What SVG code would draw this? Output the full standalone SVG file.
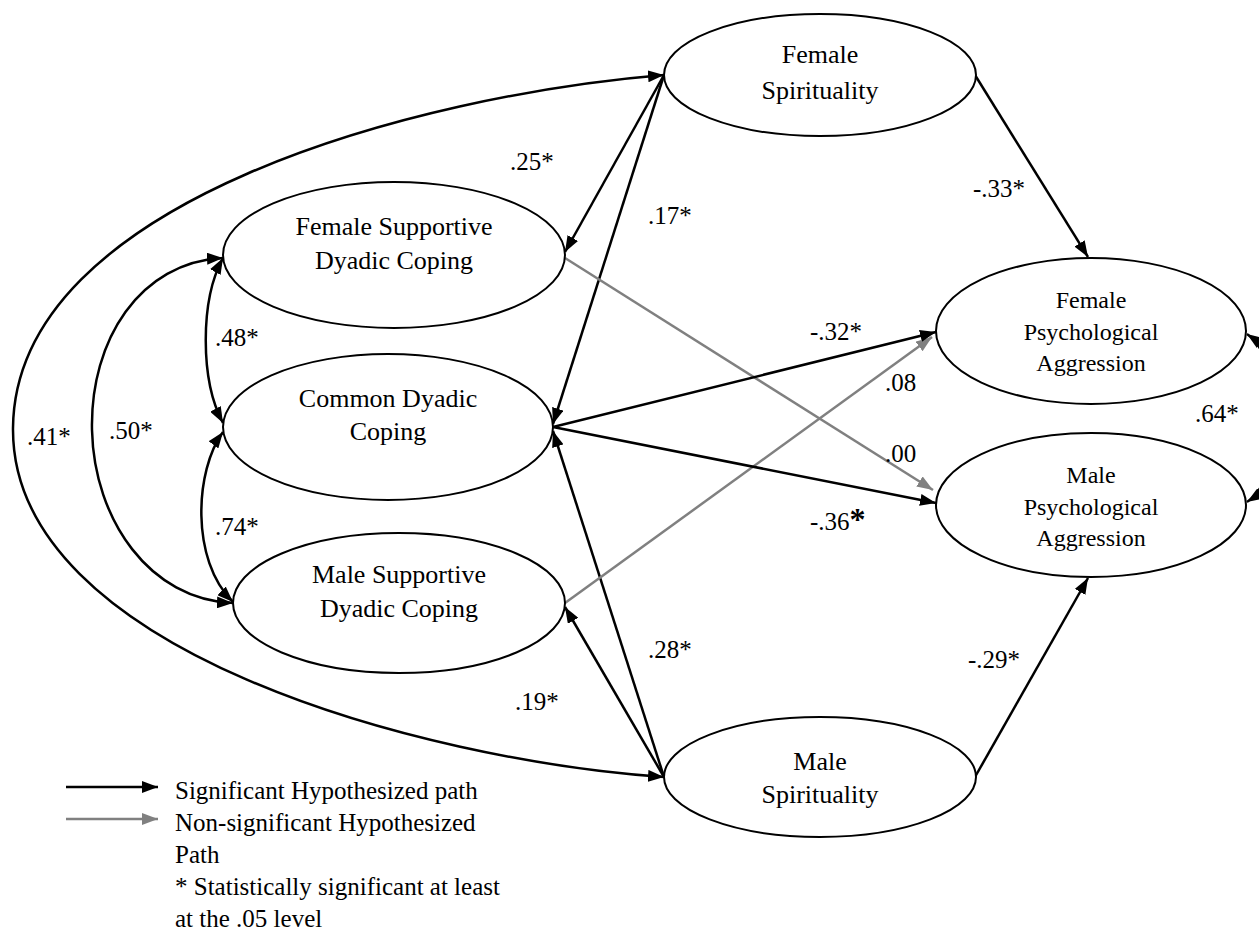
<svg xmlns="http://www.w3.org/2000/svg" width="1259" height="944" viewBox="0 0 1259 944" font-family="'Liberation Serif','Times New Roman',serif">
<style>
text{font-family:"Liberation Serif","Times New Roman",serif;fill:#000}
.n{font-size:26px;text-anchor:middle}
.p{font-size:24px;text-anchor:middle}
.l{font-size:25px}
.g{font-size:25px}
ellipse{fill:#fff;stroke:#000;stroke-width:2}
.b{fill:none;stroke:#000;stroke-width:2.5}
.gr{fill:none;stroke:#808080;stroke-width:2.5}
</style>
<defs>
<marker id="ab" markerUnits="userSpaceOnUse" markerWidth="16" markerHeight="12" refX="16" refY="6" orient="auto-start-reverse"><path d="M0,0 L16,6 L0,12 z" fill="#000"/></marker>
<marker id="ag" markerUnits="userSpaceOnUse" markerWidth="16" markerHeight="12" refX="16" refY="6" orient="auto-start-reverse"><path d="M0,0 L16,6 L0,12 z" fill="#808080"/></marker>
</defs>
<rect width="1259" height="944" fill="#fff"/>
<g id="connectors">
<path class="b" d="M664,75 C420,95 15,200 13,428 C11,650 420,760 664,777" marker-start="url(#ab)" marker-end="url(#ab)"/>
<path class="b" d="M223,258 C140,262 90,340 92,430 C94,520 150,600 233,603" marker-start="url(#ab)" marker-end="url(#ab)"/>
<path class="b" d="M223,258 C200,300 200,380 223,423" marker-start="url(#ab)" marker-end="url(#ab)"/>
<path class="b" d="M223,432 C195,470 190,560 233,602" marker-start="url(#ab)" marker-end="url(#ab)"/>
<path class="b" d="M1247,334 C1285,360 1285,478 1247,502" marker-start="url(#ab)" marker-end="url(#ab)"/>
<path class="b" d="M664,75 L565,252" marker-end="url(#ab)"/>
<path class="b" d="M664,75 L553,424" marker-end="url(#ab)"/>
<path class="b" d="M664,777 L565,607" marker-end="url(#ab)"/>
<path class="b" d="M664,777 L553,431" marker-end="url(#ab)"/>
<path class="gr" d="M565,258 L933,490" marker-end="url(#ag)"/>
<path class="gr" d="M565,603 L932,337" marker-end="url(#ag)"/>
<path class="b" d="M553,427 L936,332" marker-end="url(#ab)"/>
<path class="b" d="M553,427 L936,503" marker-end="url(#ab)"/>
<path class="b" d="M975,75 L1088,257" marker-end="url(#ab)"/>
<path class="b" d="M975,777 L1088,578" marker-end="url(#ab)"/>
</g>
<g id="labels">
<text class="l" x="510" y="170">.25*</text>
<text class="l" x="648" y="224">.17*</text>
<text class="l" x="215" y="346">.48*</text>
<text class="l" x="215" y="535">.74*</text>
<text class="l" x="109" y="439">.50*</text>
<text class="l" x="27" y="445">.41*</text>
<text class="l" x="1195" y="422">.64*</text>
<text class="l" x="810" y="340">-.32*</text>
<text class="l" x="885" y="391">.08</text>
<text class="l" x="885" y="462">.00</text>
<text class="l" x="810" y="530">-.36<tspan font-size="32" font-weight="bold">*</tspan></text>
<text class="l" x="648" y="658">.28*</text>
<text class="l" x="515" y="710">.19*</text>
<text class="l" x="973" y="197">-.33*</text>
<text class="l" x="968" y="668">-.29*</text>
</g>
<g id="node-female-spirituality"><ellipse cx="820" cy="75" rx="156" ry="61"/><text class="n" x="820" y="63">Female</text><text class="n" x="820" y="99">Spirituality</text></g>
<g id="node-male-spirituality"><ellipse cx="820" cy="777" rx="156" ry="60"/><text class="n" x="820" y="770">Male</text><text class="n" x="820" y="803">Spirituality</text></g>
<g id="node-female-supportive"><ellipse cx="394" cy="255" rx="171" ry="73"/><text class="n" x="394" y="235">Female Supportive</text><text class="n" x="394" y="269">Dyadic Coping</text></g>
<g id="node-common"><ellipse cx="388" cy="427" rx="165" ry="73"/><text class="n" x="388" y="407">Common Dyadic</text><text class="n" x="388" y="440">Coping</text></g>
<g id="node-male-supportive"><ellipse cx="399" cy="603" rx="166" ry="70"/><text class="n" x="399" y="583">Male Supportive</text><text class="n" x="399" y="617">Dyadic Coping</text></g>
<g id="node-female-aggression"><ellipse cx="1091" cy="331" rx="155" ry="73"/><text class="p" x="1091" y="308">Female</text><text class="p" x="1091" y="340">Psychological</text><text class="p" x="1091" y="371">Aggression</text></g>
<g id="node-male-aggression"><ellipse cx="1091" cy="505" rx="155" ry="72"/><text class="p" x="1091" y="483">Male</text><text class="p" x="1091" y="515">Psychological</text><text class="p" x="1091" y="546">Aggression</text></g>
<g id="legend">
<path class="b" d="M66,787 L158,787" marker-end="url(#ab)"/>
<path class="gr" d="M66,819 L158,819" marker-end="url(#ag)"/>
<text class="g" x="175" y="799">Significant Hypothesized path</text>
<text class="g" x="175" y="831">Non-significant Hypothesized</text>
<text class="g" x="175" y="863">Path</text>
<text class="g" x="175" y="895">* Statistically significant at least</text>
<text class="g" x="175" y="927">at the .05 level</text>
</g>
</svg>
